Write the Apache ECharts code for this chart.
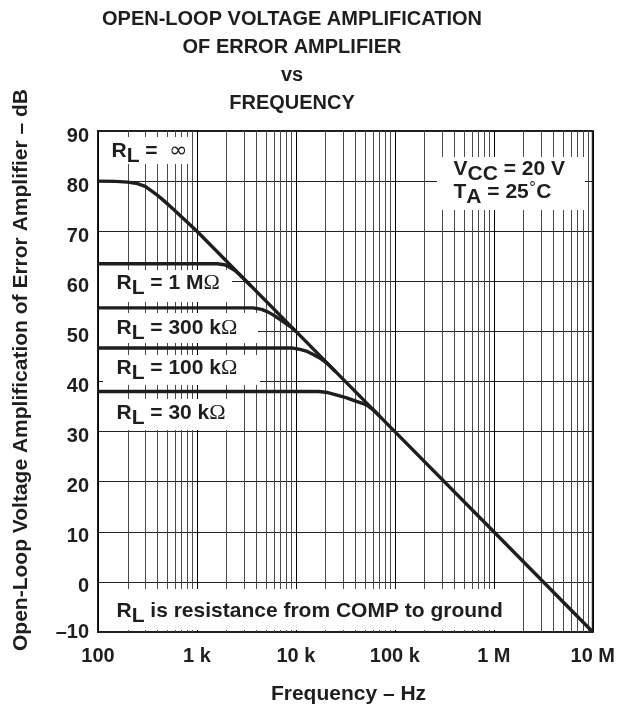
<!DOCTYPE html>
<html><head><meta charset="utf-8">
<script src="https://cdn.jsdelivr.net/npm/echarts@6/dist/echarts.min.js"></script>
<style>html,body{margin:0;padding:0;background:#fff}#c{width:618px;height:711px}</style>
</head><body><div id="c"></div>
<script>
// ---- data ----
const xTicks = [100, 1000, 10000, 100000, 1000000, 10000000];
const xTickLabels = ['100', '1 k', '10 k', '100 k', '1 M', '10 M'];
const yTicks = [-10, 0, 10, 20, 30, 40, 50, 60, 70, 80, 90];
const yTickLabels = ['–10', '0', '10', '20', '30', '40', '50', '60', '70', '80', '90'];
const minorFreqs = [200, 300, 400, 500, 600, 700, 800, 900,
  2000, 3000, 4000, 5000, 6000, 7000, 8000, 9000,
  20000, 30000, 40000, 50000, 60000, 70000, 80000, 90000,
  200000, 300000, 400000, 500000, 600000, 700000, 800000, 900000,
  2000000, 3000000, 4000000, 5000000, 6000000, 7000000, 8000000, 9000000];

const freqInf = [100, 150, 200, 250, 300, 350, 400, 450, 500, 600, 700, 800, 1000, 10000, 100000, 1000000, 10000000];
const gainInf = [80, 79.95, 79.8, 79.5, 78.95, 78.0, 77.15, 76.3, 75.5, 74.1, 72.85, 71.8, 70, 50, 30, 10, -10];
const freq1M = [100, 1600, 1900, 2100, 2400, 2700, 3000, 3500];
const gain1M = [63.5, 63.5, 63.3, 62.9, 62.2, 61.3, 60.4, 59.1];
const freq300k = [100, 3700, 4500, 5200, 6000, 7000, 8000, 9000, 10000];
const gain300k = [54.7, 54.7, 54.4, 53.9, 53.2, 52.3, 51.5, 50.8, 50.0];
const freq100k = [100, 9000, 11000, 13000, 15000, 17000, 19500, 22000, 25000];
const gain100k = [46.7, 46.7, 46.4, 46.0, 45.4, 44.8, 44.0, 43.1, 42.0];
const freq30k = [100, 17000, 21000, 26000, 32000, 39000, 46000, 53000, 60000, 70000];
const gain30k = [38, 38, 37.8, 37.3, 36.8, 36.2, 35.7, 35.2, 34.4, 33.1];

const titleLines = ['OPEN-LOOP VOLTAGE AMPLIFICATION', 'OF ERROR AMPLIFIER', 'vs', 'FREQUENCY'];
const xName = 'Frequency – Hz';
const yName = 'Open-Loop Voltage Amplification of Error Amplifier – dB';

// ---- styles ----
const FONT = '"Liberation Sans", Arial, Helvetica, sans-serif';
const INK = '#1e1e1e';

function zip(f, g) { return f.map((v, i) => [v, g[i]]); }

function curve(name, f, g, extra) {
  return Object.assign({
    name: name, type: 'line', data: zip(f, g), showSymbol: false, symbol: 'none',
    lineStyle: { color: INK, width: 3.4, join: 'round' }, z: 10, silent: true, animation: false, smooth: false
  }, extra || {});
}

const rich = {
  m: { fontFamily: FONT, fontSize: 21, fontWeight: 'bold', fill: INK },
  s: { fontFamily: FONT, fontSize: 21, fontWeight: 'bold', fill: INK, padding: [10, 0, 0, 0] },
  o: { fontFamily: '"Liberation Serif", "DejaVu Serif", serif', fontSize: 22, fontWeight: 'normal', fill: INK },
  i: { fontFamily: '"DejaVu Sans", sans-serif', fontSize: 22, fontWeight: 'normal', fill: INK },
  d: { fontFamily: '"DejaVu Sans", sans-serif', fontSize: 15, fontWeight: 'normal', fill: INK, padding: [0, 0, 6, 0] }
};

function lbl(x, y, text) {
  return { type: 'text', x: x, y: y, z: 6, silent: true,
    style: { text: text, rich: rich, align: 'left', verticalAlign: 'middle', fontFamily: FONT, fontSize: 21, fontWeight: 'bold', fill: INK } };
}
function box(x, y, w, h) {
  return { type: 'rect', z: 5, silent: true, shape: { x: x, y: y, width: w, height: h }, style: { fill: '#fff' } };
}

const graphics = [
  box(99, 137, 91, 27),
  box(99, 270, 133, 32),
  box(99, 313, 159, 30),
  box(103, 355, 157, 30),
  box(99, 399, 133, 31),
  box(437, 157, 148, 53),
  box(99, 589, 421, 41),
  lbl(111.5, 151.5, '{m|R}{s|L}{m| =  }{i|∞}'),
  lbl(116.5, 283.5, '{m|R}{s|L}{m| = 1 M}{o|Ω}'),
  lbl(116.5, 328.5, '{m|R}{s|L}{m| = 300 k}{o|Ω}'),
  lbl(116.5, 368.5, '{m|R}{s|L}{m| = 100 k}{o|Ω}'),
  lbl(116.5, 413.5, '{m|R}{s|L}{m| = 30 k}{o|Ω}'),
  lbl(453.5, 169, '{m|V}{s|CC}{m| = 20 V}'),
  lbl(453.5, 192.5, '{m|T}{s|A}{m| = 25}{d|°}{m|C}'),
  lbl(116.5, 611, '{m|R}{s|L}{m| is resistance from COMP to ground}')
];
const titleY = [19.5, 47.5, 75.5, 103.5];
titleLines.forEach((t, i) => graphics.push({ type: 'text', x: 292, y: titleY[i], z: 6, silent: true,
  style: { text: t, align: 'center', verticalAlign: 'middle', fontFamily: FONT, fontSize: 20, fontWeight: 'bold', fill: INK } }));
graphics.push({ type: 'text', x: 348.5, y: 694, z: 6, silent: true,
  style: { text: xName, align: 'center', verticalAlign: 'middle', fontFamily: FONT, fontSize: 21, fontWeight: 'bold', fill: INK } });
graphics.push({ type: 'text', x: 21, y: 370, rotation: Math.PI / 2, z: 6, silent: true,
  style: { text: yName, align: 'center', verticalAlign: 'middle', fontFamily: FONT, fontSize: 21, fontWeight: 'bold', fill: INK } });

const chart = echarts.init(document.getElementById('c'), null, { renderer: 'canvas' });
chart.setOption({
  animation: false,
  backgroundColor: '#fff',
  grid: { left: 98, right: 20, top: 131, bottom: 79, show: true, borderColor: INK, borderWidth: 2, backgroundColor: 'transparent' },
  xAxis: {
    type: 'log', logBase: 10, min: 100, max: 10000000,
    axisLine: { show: false }, axisTick: { show: false },
    splitLine: { show: true, lineStyle: { color: '#000', width: 1 } },
    axisLabel: {
      show: true, margin: 14, showMinLabel: true, showMaxLabel: true,
      fontFamily: FONT, fontSize: 20, fontWeight: 'bold', color: INK,
      formatter: function (v) { const i = Math.round(Math.log10(v)) - 2; return xTickLabels[i] !== undefined ? xTickLabels[i] : ''; }
    }
  },
  yAxis: {
    type: 'value', min: -10, max: 90, interval: 10,
    axisLine: { show: false }, axisTick: { show: false },
    splitLine: { show: true, lineStyle: { color: '#222', width: 1 } },
    axisLabel: {
      margin: 9, fontFamily: FONT, fontSize: 20, fontWeight: 'bold', color: INK,
      formatter: function (v) { const i = yTicks.indexOf(v); const t = i >= 0 ? yTickLabels[i] : ''; return v === -10 ? '{b|' + t + '}' : '{a|' + t + '}'; },
      rich: {
        a: { fontFamily: FONT, fontSize: 20, fontWeight: 'bold', color: INK, padding: [10, 0, 0, 0] },
        b: { fontFamily: FONT, fontSize: 20, fontWeight: 'bold', color: INK }
      }
    }
  },
  series: [
    curve('RL = ∞', freqInf, gainInf, {
      markLine: {
        silent: true, animation: false, z: 1, symbol: ['none', 'none'], label: { show: false },
        lineStyle: { color: '#4a4a4a', width: 1, type: 'solid' },
        emphasis: { disabled: true },
        data: minorFreqs.map(f => ({ xAxis: f }))
      }
    }),
    curve('RL = 1 MΩ', freq1M, gain1M),
    curve('RL = 300 kΩ', freq300k, gain300k),
    curve('RL = 100 kΩ', freq100k, gain100k),
    curve('RL = 30 kΩ', freq30k, gain30k)
  ],
  graphic: { elements: graphics }
});
</script></body></html>
